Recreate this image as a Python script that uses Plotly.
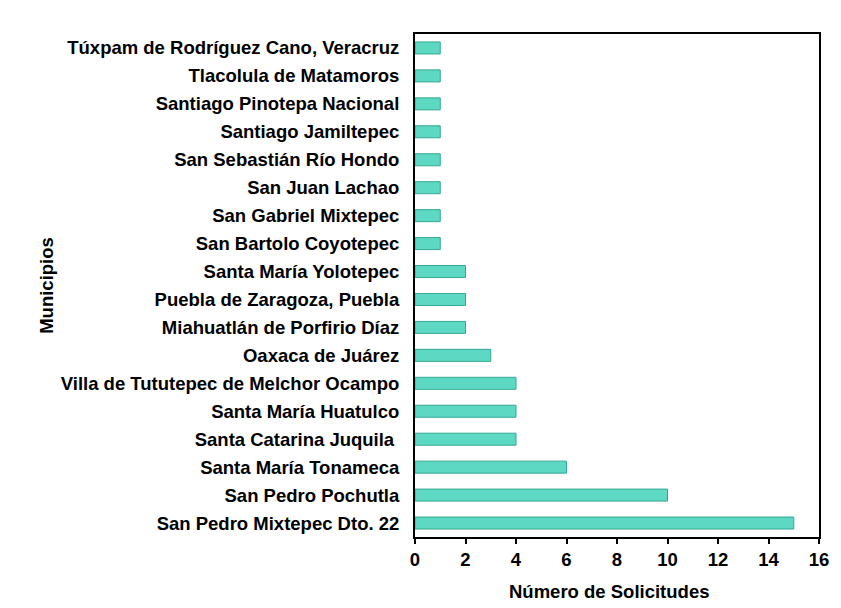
import plotly.graph_objects as go

municipios = [
    "Túxpam de Rodríguez Cano, Veracruz",
    "Tlacolula de Matamoros",
    "Santiago Pinotepa Nacional",
    "Santiago Jamiltepec",
    "San Sebastián Río Hondo",
    "San Juan Lachao",
    "San Gabriel Mixtepec",
    "San Bartolo Coyotepec",
    "Santa María Yolotepec",
    "Puebla de Zaragoza, Puebla",
    "Miahuatlán de Porfirio Díaz",
    "Oaxaca de Juárez",
    "Villa de Tututepec de Melchor Ocampo",
    "Santa María Huatulco",
    "Santa Catarina Juquila ",
    "Santa María Tonameca",
    "San Pedro Pochutla",
    "San Pedro Mixtepec Dto. 22",
]
solicitudes = [1, 1, 1, 1, 1, 1, 1, 1, 2, 2, 2, 3, 4, 4, 4, 6, 10, 15]
x_ticks = [0, 2, 4, 6, 8, 10, 12, 14, 16]

fig = go.Figure(go.Bar(
    y=municipios,
    x=solicitudes,
    orientation="h",
    marker=dict(color="#5cd8c3", line=dict(color="#35a895", width=1)),
    width=0.43,
))

font_family = "Liberation Sans, Arial, sans-serif"
fig.update_layout(
    width=833, height=600,
    margin=dict(l=407, r=17, t=26, b=71),
    plot_bgcolor="white", paper_bgcolor="white",
    showlegend=False,
    font=dict(family=font_family, color="black"),
    annotations=[dict(
        text="<b>Número de Solicitudes</b>", xref="paper", yref="paper",
        x=0.5, y=0, xanchor="center", yanchor="middle",
        xshift=-8, yshift=-54, showarrow=False,
        font=dict(size=18.5, family=font_family, color="black"),
    )],
)
fig.update_xaxes(
    range=[0, 16], tickvals=x_ticks,
    showgrid=False, zeroline=False,
    showline=True, linecolor="black", linewidth=2, mirror=True,
    ticks="outside", ticklen=5, tickwidth=1.5, tickcolor="black",
    tickfont=dict(size=18.5, family=font_family, color="black", weight="bold"),
)
fig.update_yaxes(
    categoryorder="array", categoryarray=municipios,
    autorange="reversed",
    showgrid=False, zeroline=False,
    showline=True, linecolor="black", linewidth=2, mirror=True,
    ticks="", ticklabelstandoff=10,
    tickfont=dict(size=18.5, family=font_family, color="black", weight="bold"),
    title=dict(text="<b>Municipios</b>", font=dict(size=18.5), standoff=2),
)

fig.write_html("out.html")
